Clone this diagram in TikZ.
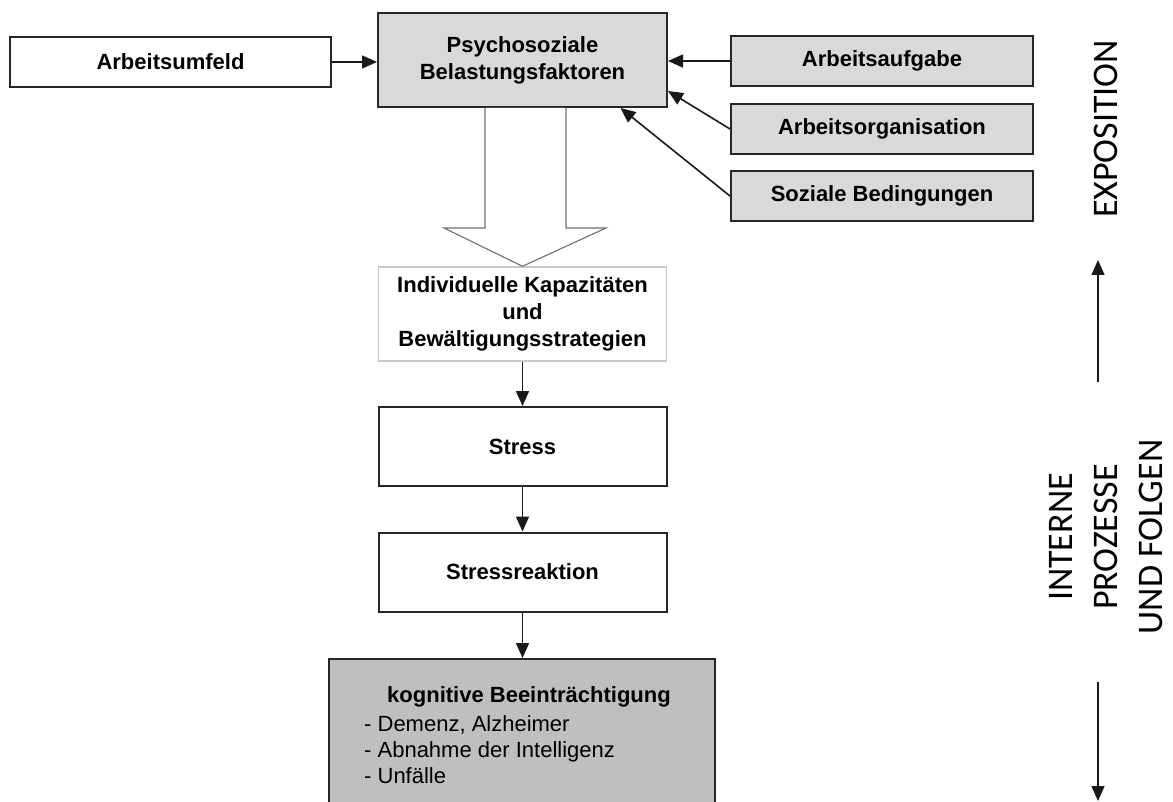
\documentclass[tikz,border=0pt]{standalone}
\usepackage{fontspec}
\setmainfont{Liberation Sans}
\newfontfamily\sidefont{Carlito}
\usetikzlibrary{arrows.meta,calc}
\definecolor{boxgray}{HTML}{D9D9D9}
\definecolor{midgray}{HTML}{BFBFBF}
\definecolor{edgegray}{HTML}{C8C8C8}
\definecolor{hollowgray}{HTML}{6F6F6F}
\begin{document}
\begin{tikzpicture}[x=1pt,y=-1pt,
  box/.style={draw=black!85, line width=2pt, rectangle, inner sep=0pt, align=center,
    font=\fontsize{22}{27}\selectfont\bfseries},
  graybox/.style={box, fill=boxgray},
  arr/.style={line width=1.6pt, draw=black!90, -{Triangle[length=15pt,width=13pt]}},
  sidetext/.style={rotate=90, align=center, inner sep=0pt, font=\sidefont\fontsize{36}{45}\selectfont},
  plain/.style={inner sep=0pt, font=\fontsize{22}{26}\selectfont}
]
\useasboundingbox (0,0) rectangle (1173,802);
\clip (0,0) rectangle (1173,802);
% top row
\node[box, minimum width=321pt, minimum height=50pt] (arb) at (170.5,62) {Arbeitsumfeld};
\node[graybox, minimum width=289pt, minimum height=94pt] (psy) at (522.5,60) {Psychosoziale\\Belastungsfaktoren};
\node[graybox, minimum width=302pt, minimum height=50pt] (auf) at (882,61) {Arbeitsaufgabe};
\node[graybox, minimum width=302pt, minimum height=50pt] (org) at (882,129) {Arbeitsorganisation};
\node[graybox, minimum width=302pt, minimum height=50pt] (soz) at (882,196) {Soziale Bedingungen};
% vertical chain
\node[box, draw=edgegray, line width=1.4pt, minimum width=288pt, minimum height=94pt] (ind) at (522.5,314) {Individuelle Kapazitäten\\und\\Bewältigungsstrategien};
\node[box, minimum width=288pt, minimum height=79pt] (str) at (522.5,446.5) {Stress};
\node[box, minimum width=288pt, minimum height=79pt] (rea) at (522.5,572) {Stressreaktion};
\node[box, fill=midgray, minimum width=386pt, minimum height=170pt] (kog) at (522,744) {};
\node[plain, font=\fontsize{22}{26}\selectfont\bfseries] (kt) at (529,697) {kognitive Beeinträchtigung};
\node[plain, anchor=west, align=left] (kl) at (364,750) {- Demenz, Alzheimer\\- Abnahme der Intelligenz\\- Unfälle};
% hollow arrow
\draw[hollowgray, line width=1.1pt, fill=white]
  ($(psy.south)+(-37.5,0)$) -- ($(psy.south)+(-37.5,120)$) -- ($(psy.south)+(-78.5,120)$)
  -- (ind.north) -- ($(psy.south)+(83.5,120)$) -- ($(psy.south)+(43.5,120)$) -- ($(psy.south)+(43.5,0)$);
% connectors
\draw[arr] (arb.east) -- (arb.east -| psy.west);
\draw[arr] (auf.west) -- (auf.west -| psy.east);
\draw[arr] (org.west) -- ($(psy.south east)+(0,-17)$);
\draw[arr] (soz.west) -- ($(psy.south)+(98,0)$);
\draw[arr] (ind.south) -- (str.north);
\draw[arr] (str.south) -- (rea.north);
\draw[arr] (rea.south) -- (rea.south |- kog.north);
% side labels
\node[sidetext] (expo) at (1106,129) {EXPOSITION};
\node[sidetext] (intern) at (1106,537) {INTERNE\\PROZESSE\\UND FOLGEN};
\coordinate (upS) at (1098,382);
\coordinate (upE) at (1098,260);
\coordinate (dnS) at (1098,682);
\coordinate (dnE) at (1098,801);
\draw[arr, line width=1.4pt] (upS) -- (upE);
\draw[arr, line width=1.4pt] (dnS) -- (dnE);
\end{tikzpicture}
\end{document}
